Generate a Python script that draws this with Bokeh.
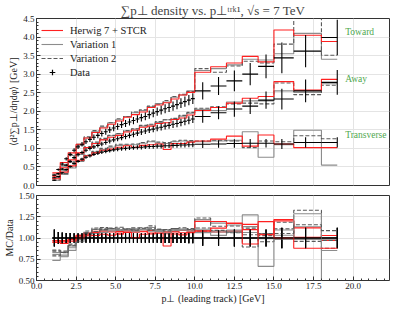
from bokeh.plotting import figure
from bokeh.models import (Range1d, FixedTicker, NumeralTickFormatter, Legend, LegendItem,
                          ColumnDataSource, Label)
from bokeh.layouts import column
from bokeh.embed import file_html
from bokeh.resources import INLINE

FONT = "Liberation Serif"
RED = "#ff2020"
GREY1 = "#8c8c8c"
GREY2 = "#5a5a5a"
GREEN = "#4fa84f"

# ---------------- data ----------------
data_edges = [1.0, 1.25, 1.5, 1.75, 2.0, 2.25, 2.5, 2.75, 3.0, 3.25, 3.5, 3.75, 4.0, 4.25,
              4.5, 4.75, 5.0, 5.25, 5.5, 5.75, 6.0, 6.25, 6.5, 6.75, 7.0, 7.25, 7.5, 7.75,
              8.0, 8.25, 8.5, 8.75, 9.0, 9.25, 9.5, 9.75, 10.0,
              11.0, 12.0, 13.0, 14.0, 15.0, 16.25, 18.0, 19.0]
data_x = [1.125, 1.375, 1.625, 1.875, 2.125, 2.375, 2.625, 2.875, 3.125, 3.375, 3.625, 3.875,
          4.125, 4.375, 4.625, 4.875, 5.125, 5.375, 5.625, 5.875, 6.125, 6.375, 6.625, 6.875,
          7.125, 7.375, 7.625, 7.875, 8.125, 8.375, 8.625, 8.875, 9.125, 9.375, 9.625, 9.875,
          10.5, 11.5, 12.5, 13.5, 14.5, 15.5, 17.0, 19.0]
data_toward = [0.27, 0.43, 0.58, 0.72, 0.84, 0.95, 1.04, 1.11, 1.18, 1.24, 1.30, 1.35,
               1.40, 1.45, 1.50, 1.55, 1.59, 1.64, 1.67, 1.71, 1.75, 1.79, 1.83, 1.86,
               1.91, 1.95, 1.99, 2.03, 2.07, 2.10, 2.14, 2.18, 2.22, 2.26, 2.30, 2.34,
               2.55, 2.68, 2.82, 3.00, 3.21, 3.44, 3.62, 3.99]
data_away = [0.20, 0.32, 0.44, 0.55, 0.65, 0.75, 0.83, 0.89, 0.95, 1.00, 1.04, 1.08,
             1.12, 1.16, 1.20, 1.23, 1.26, 1.29, 1.32, 1.35, 1.38, 1.41, 1.44, 1.47,
             1.50, 1.52, 1.55, 1.57, 1.60, 1.62, 1.65, 1.67, 1.70, 1.73, 1.76, 1.79,
             1.86, 1.96, 2.06, 2.14, 2.30, 2.33, 2.55, 2.78]
data_trans = [0.14, 0.24, 0.34, 0.43, 0.51, 0.59, 0.65, 0.71, 0.76, 0.80, 0.84, 0.87,
              0.90, 0.92, 0.94, 0.96, 0.98, 0.99, 1.00, 1.01, 1.02, 1.03, 1.03, 1.04,
              1.05, 1.05, 1.06, 1.06, 1.07, 1.07, 1.08, 1.08, 1.09, 1.09, 1.10, 1.10,
              1.11, 1.12, 1.13, 1.14, 1.14, 1.12, 1.16, 1.16]
data_relerr = [0.10, 0.07, 0.065, 0.06, 0.058, 0.056, 0.055, 0.055, 0.055, 0.055, 0.055, 0.055,
               0.055, 0.055, 0.055, 0.055, 0.055, 0.055, 0.055, 0.055, 0.056, 0.056, 0.056, 0.056,
               0.057, 0.057, 0.057, 0.058, 0.058, 0.058, 0.059, 0.059, 0.060, 0.060, 0.061, 0.061,
               0.09, 0.09, 0.10, 0.10, 0.10, 0.12, 0.12, 0.12]

mc_edges = [1.0, 1.5, 2.0, 2.5, 3.0, 3.5, 4.0, 4.5, 5.0, 5.5, 6.0, 6.5, 7.0, 7.5, 8.0, 8.5,
            9.0, 9.5, 10.0, 11.0, 12.0, 13.0, 14.0, 15.0, 16.25, 18.0, 19.0]
herwig_toward = [0.34, 0.62, 0.88, 1.11, 1.28, 1.43, 1.55, 1.65, 1.74, 1.84, 1.91, 1.98, 2.10,
                 2.17, 2.23, 2.33, 2.44, 2.51, 3.05, 3.20, 3.30, 3.48, 3.33, 4.19, 4.05, 3.88]
var1_toward = [0.29, 0.52, 0.81, 1.08, 1.28, 1.46, 1.57, 1.69, 1.77, 1.86, 1.96, 2.02, 2.12,
               2.21, 2.25, 2.38, 2.44, 2.55, 3.10, 3.15, 3.25, 3.40, 3.38, 3.55, 4.10, 3.40]
var2_toward = [0.30, 0.55, 0.83, 1.11, 1.31, 1.48, 1.60, 1.69, 1.80, 1.86, 1.98, 2.04, 2.14,
               2.19, 2.29, 2.40, 2.46, 2.53, 3.15, 3.05, 3.22, 3.35, 3.30, 3.81, 4.80, 3.51]
herwig_away = [0.25, 0.48, 0.69, 0.88, 1.02, 1.13, 1.23, 1.30, 1.35, 1.44, 1.49, 1.57, 1.60,
               1.67, 1.69, 1.78, 1.82, 1.90, 2.02, 2.10, 2.22, 2.35, 2.40, 2.80, 2.57, 2.86]
var1_away = [0.21, 0.39, 0.62, 0.84, 1.02, 1.14, 1.24, 1.34, 1.39, 1.47, 1.52, 1.60, 1.63,
             1.70, 1.77, 1.79, 1.87, 1.95, 2.05, 2.02, 2.25, 2.28, 2.28, 2.55, 2.51, 2.74]
var2_away = [0.22, 0.41, 0.64, 0.87, 1.04, 1.17, 1.27, 1.35, 1.40, 1.48, 1.53, 1.62, 1.65,
             1.72, 1.77, 1.81, 1.89, 1.97, 2.08, 2.12, 2.20, 2.22, 2.20, 2.76, 2.45, 2.70]
herwig_trans = [0.18, 0.36, 0.53, 0.68, 0.80, 0.88, 0.95, 0.98, 1.03, 1.07, 1.03, 1.08, 1.10,
                1.12, 0.97, 1.13, 1.13, 1.17, 1.20, 1.25, 1.33, 1.06, 1.36, 1.12, 1.02, 1.02]
var1_trans = [0.14, 0.30, 0.47, 0.65, 0.80, 0.90, 0.97, 1.03, 1.08, 1.09, 1.10, 1.14, 1.18,
              1.14, 1.13, 1.18, 1.20, 1.19, 1.18, 1.20, 1.22, 1.45, 0.76, 1.10, 1.49, 0.55]
var2_trans = [0.15, 0.32, 0.50, 0.67, 0.82, 0.92, 1.00, 1.06, 1.11, 1.11, 1.12, 1.16, 1.20,
              1.17, 1.16, 1.20, 1.22, 1.21, 1.20, 1.22, 1.20, 1.02, 1.20, 1.18, 1.34, 1.26]

regions = ["Toward", "Away", "Transverse"]
region_label_y = [4.14, 2.88, 1.35]

x_ticks = [0.0, 2.5, 5.0, 7.5, 10.0, 12.5, 15.0, 17.5, 20.0]
x_minor = [i * 0.5 for i in range(45)]
y_ticks = [0.0, 0.5, 1.0, 1.5, 2.0, 2.5, 3.0, 3.5, 4.0, 4.5]
y_minor = [i * 0.1 for i in range(46)]
r_ticks = [0.5, 0.75, 1.0, 1.25, 1.5]
r_minor = [0.5 + i * 0.05 for i in range(21)]

TITLE = "\u2211p\u22a5 density vs. p\u22a5\u1d57\u02b3\u1d4f\u00b9, \u221as = 7 TeV"
YLABEL = "\u27e8d\u00b2\u2211p\u22a5/d\u03b7d\u03c6\u27e9 [GeV]"
RLABEL = "MC/Data"
XLABEL = "p\u22a5 (leading track) [GeV]"

series = {
    "Toward": (data_toward, herwig_toward, var1_toward, var2_toward),
    "Away": (data_away, herwig_away, var1_away, var2_away),
    "Transverse": (data_trans, herwig_trans, var1_trans, var2_trans),
}


def rebin(vals):
    out = []
    for lo, hi in zip(mc_edges[:-1], mc_edges[1:]):
        sel = [v for a, b, v in zip(data_edges[:-1], data_edges[1:], vals)
               if a >= lo - 1e-9 and b <= hi + 1e-9]
        out.append(sum(sel) / len(sel))
    return out


x_range = Range1d(0, 22.3)


def style_axis(ax, ticks, minor, fmt):
    ax.ticker = FixedTicker(ticks=ticks, minor_ticks=minor)
    ax.formatter = NumeralTickFormatter(format=fmt)
    ax.major_label_text_font = FONT
    ax.major_label_text_font_size = "9px"
    ax.major_label_text_color = "#222222"
    ax.major_label_text_line_height = 1.0
    ax.axis_label_text_font = FONT
    ax.axis_label_text_font_size = "10px"
    ax.axis_label_text_font_style = "normal"
    ax.axis_label_text_color = "#222222"
    ax.axis_label_text_line_height = 1.0
    ax.axis_line_color = None
    ax.major_tick_in = 4
    ax.major_tick_out = 0
    ax.minor_tick_in = 2
    ax.minor_tick_out = 0
    ax.major_tick_line_color = "#333333"
    ax.minor_tick_line_color = "#333333"
    ax.major_label_standoff = 2
    ax.axis_label_standoff = 1


def style(p, yt, ym, fmt):
    p.outline_line_color = "#333333"
    p.outline_line_width = 1
    p.background_fill_color = "white"
    p.border_fill_color = "white"
    for ax in p.yaxis:
        style_axis(ax, yt, ym, fmt)
    for ax in p.xaxis:
        style_axis(ax, x_ticks, x_minor, "0.0")
    p.grid.grid_line_color = "#e4e4e4"
    p.grid.grid_line_width = 1
    p.grid.minor_grid_line_color = None


# ---------------- main panel ----------------
p = figure(width=391, height=190, x_range=x_range, y_range=Range1d(0, 4.5),
           output_backend="svg", toolbar_location=None,
           min_border_left=30, min_border_right=2, min_border_top=14, min_border_bottom=5)
p.title.text = TITLE
p.title.text_font = FONT
p.title.text_font_size = "13px"
p.title.text_font_style = "normal"
p.title.text_line_height = 1.0
p.title.align = "center"
p.title.standoff = 1
p.yaxis.axis_label = YLABEL
style(p, y_ticks, y_minor, "0.0")
p.xaxis.visible = False

# ---------------- ratio panel ----------------
r = figure(width=391, height=116, x_range=x_range, y_range=Range1d(0.5, 1.5),
           output_backend="svg", toolbar_location=None,
           min_border_left=30, min_border_right=2, min_border_top=5, min_border_bottom=20)
r.yaxis.axis_label = RLABEL
r.xaxis.axis_label = XLABEL
style(r, r_ticks, r_minor, "0.00")

legend_renderers = {}
for name in regions:
    dvals, hw, v1, v2 = series[name]
    dreb = rebin(dvals)
    for vals, col, dash, key in ((v1, GREY1, "solid", "v1"), (v2, GREY2, "4 2", "v2"),
                                 (hw, RED, "solid", "hw")):
        src = ColumnDataSource(dict(x=mc_edges, y=vals + [vals[-1]]))
        rr = p.step("x", "y", source=src, mode="after", line_color=col, line_width=1.1,
                    line_dash=dash)
        legend_renderers.setdefault(key, rr)
        ratio = [m / d for m, d in zip(vals, dreb)]
        rsrc = ColumnDataSource(dict(x=mc_edges, y=ratio + [ratio[-1]]))
        r.step("x", "y", source=rsrc, mode="after", line_color=col, line_width=1.1,
               line_dash=dash)
    # data points with error bars
    err = [v * e for v, e in zip(dvals, data_relerr)]
    dsrc = ColumnDataSource(dict(x=data_x, lo=data_edges[:-1], hi=data_edges[1:], y=dvals,
                                 ylo=[v - e for v, e in zip(dvals, err)],
                                 yhi=[v + e for v, e in zip(dvals, err)],
                                 one=[1.0] * len(dvals),
                                 rlo=[1 - e for e in data_relerr],
                                 rhi=[1 + e for e in data_relerr]))
    p.segment("lo", "y", "hi", "y", source=dsrc, line_color="black", line_width=1.1)
    p.segment("x", "ylo", "x", "yhi", source=dsrc, line_color="black", line_width=1.1)
    r.segment("lo", "one", "hi", "one", source=dsrc, line_color="black", line_width=1.1)
    r.segment("x", "rlo", "x", "rhi", source=dsrc, line_color="black", line_width=1.1)

for name, yy in zip(regions, region_label_y):
    p.add_layout(Label(x=19.5, y=yy, text=name, text_font=FONT, text_font_size="9.5px",
                       text_color=GREEN, text_baseline="middle", text_align="left"))

# legend proxy for the data marker (not drawn in the plot: y is NaN)
data_leg = p.scatter(x=[data_x[0]], y=[float("nan")], marker="cross", size=12,
                     line_color="black", line_width=1.2)
legend = Legend(items=[
    LegendItem(label="Herwig 7 + STCR", renderers=[legend_renderers["hw"]]),
    LegendItem(label="Variation 1", renderers=[legend_renderers["v1"]]),
    LegendItem(label="Variation 2", renderers=[legend_renderers["v2"]]),
    LegendItem(label="Data", renderers=[data_leg], index=0),
], location="top_left")
legend.margin = 5
legend.padding = 2
legend.spacing = 0
legend.label_height = 14
legend.glyph_height = 14
legend.glyph_width = 22
legend.label_standoff = 7
legend.label_text_font = FONT
legend.label_text_font_size = "10.5px"
legend.label_text_color = "#222222"
legend.border_line_color = None
legend.background_fill_alpha = 0
p.add_layout(legend)

layout = column(p, r, spacing=0)
open("out.html", "w").write(file_html(layout, INLINE))
